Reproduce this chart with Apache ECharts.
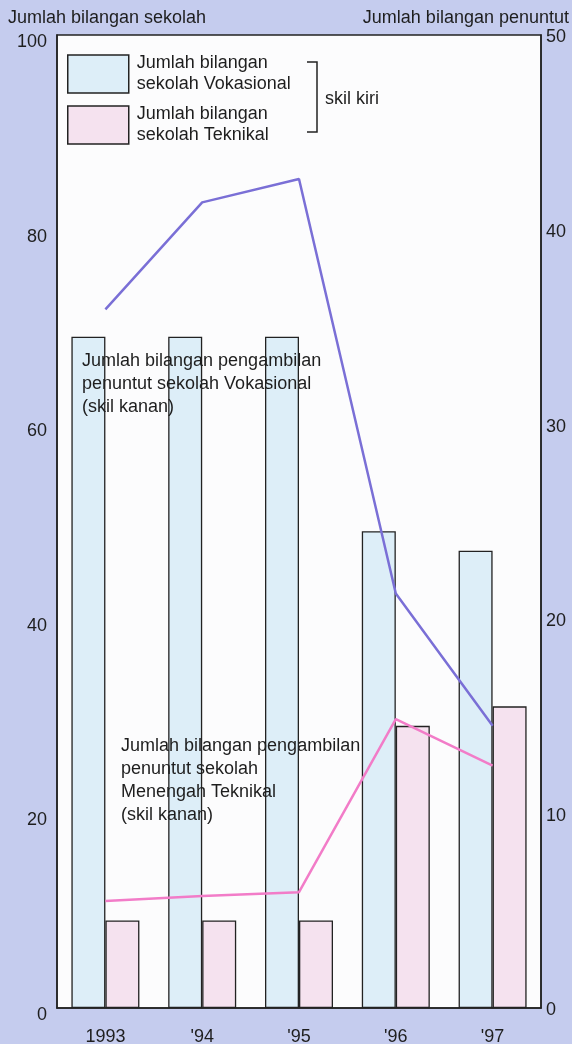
<!DOCTYPE html>
<html>
<head>
<meta charset="utf-8">
<script src="https://cdn.jsdelivr.net/npm/echarts@6/dist/echarts.min.js"></script>
<style>
html,body{margin:0;padding:0;background:#c5ccee;}
#chart{width:572px;height:1044px;}
</style>
</head>
<body>
<div id="chart"></div>
<script>
var years = ['1993', "'94", "'95", "'96", "'97"];
var sekolahVokasional = [69, 69, 69, 49, 47];
var sekolahTeknikal = [9, 9, 9, 29, 31];
var penuntutVokasional = [35.9, 41.4, 42.6, 21.3, 14.5];
var penuntutTeknikal = [5.5, 5.75, 5.95, 14.85, 12.45];
var leftTicks = [0, 20, 40, 60, 80, 100];
var rightTicks = [0, 10, 20, 30, 40, 50];

var FONT = '"Liberation Sans", Arial, sans-serif';
var TXT = '#1e1e1e';
var nameV = 'Jumlah bilangan sekolah Vokasional';
var nameT = 'Jumlah bilangan sekolah Teknikal';

var chart = echarts.init(document.getElementById('chart'), null, {renderer: 'canvas'});
chart.setOption({
  backgroundColor: '#c5ccee',
  animation: false,
  textStyle: {fontFamily: FONT},
  grid: {
    left: 57, right: 31, top: 35, bottom: 36,
    outerBoundsMode: 'none', containLabel: false,
    show: true, backgroundColor: '#fcfcfd', borderColor: '#222', borderWidth: 1.5
  },
  legend: {
    data: [nameV, nameT],
    orient: 'vertical',
    left: 67, top: 52, padding: 0,
    itemWidth: 61, itemHeight: 38, itemGap: 7,
    icon: 'rect',
    selectedMode: false,
    itemStyle: {borderColor: '#222', borderWidth: 1.5},
    formatter: function (n) {
      return n === nameV ? 'Jumlah bilangan\nsekolah Vokasional' : 'Jumlah bilangan\nsekolah Teknikal';
    },
    textStyle: {fontSize: 18, color: TXT, lineHeight: 21, fontFamily: FONT, padding: [2, 0, 0, 3]}
  },
  xAxis: {
    type: 'category',
    data: years,
    axisLine: {show: true, lineStyle: {color: '#222', width: 1.5}},
    axisTick: {show: false},
    axisLabel: {fontSize: 18, color: TXT, margin: 20, fontFamily: FONT}
  },
  yAxis: [
    {
      type: 'value', min: leftTicks[0], max: leftTicks[leftTicks.length - 1], interval: 20,
      axisLine: {show: true, lineStyle: {color: '#222', width: 1.5}},
      axisTick: {show: false},
      splitLine: {show: false},
      axisLabel: {fontSize: 18, color: TXT, margin: 10, fontFamily: FONT, verticalAlign: 'top', lineHeight: 14}
    },
    {
      type: 'value', min: rightTicks[0], max: rightTicks[rightTicks.length - 1], interval: 10,
      position: 'right',
      axisLine: {show: true, lineStyle: {color: '#222', width: 1.5}},
      axisTick: {show: false},
      splitLine: {show: false},
      axisLabel: {fontSize: 18, color: TXT, margin: 5, fontFamily: FONT, verticalAlign: 'top', lineHeight: 5}
    }
  ],
  series: [
    {
      name: nameV, type: 'bar', yAxisIndex: 0, data: sekolahVokasional,
      barWidth: 34, barGap: '0%',
      itemStyle: {color: '#ddeef8', borderColor: '#222', borderWidth: 1.3}
    },
    {
      name: nameT, type: 'bar', yAxisIndex: 0, data: sekolahTeknikal,
      barWidth: 34, barGap: '0%',
      itemStyle: {color: '#f5e2ef', borderColor: '#222', borderWidth: 1.3}
    },
    {
      name: 'Jumlah bilangan pengambilan penuntut sekolah Vokasional', type: 'line', yAxisIndex: 1,
      data: penuntutVokasional, symbol: 'none',
      lineStyle: {color: '#7a6fd6', width: 2.5}, z: 5
    },
    {
      name: 'Jumlah bilangan pengambilan penuntut sekolah Menengah Teknikal', type: 'line', yAxisIndex: 1,
      data: penuntutTeknikal, symbol: 'none',
      lineStyle: {color: '#f27cc8', width: 2.5}, z: 5
    }
  ],
  graphic: [
    {type: 'text', left: 8, top: 9, z: 10,
     style: {text: 'Jumlah bilangan sekolah', fontSize: 18, fill: TXT, fontFamily: FONT}},
    {type: 'text', right: 3, top: 9, z: 10,
     style: {text: 'Jumlah bilangan penuntut', fontSize: 18, fill: TXT, fontFamily: FONT}},
    {type: 'polyline', z: 10,
     shape: {points: [[307, 62], [317, 62], [317, 132], [307, 132]]},
     style: {stroke: '#222', lineWidth: 1.5, fill: null}},
    {type: 'text', left: 325, top: 90, z: 10,
     style: {text: 'skil kiri', fontSize: 18, fill: TXT, fontFamily: FONT}},
    {type: 'text', left: 82, top: 350, z: 10,
     style: {text: 'Jumlah bilangan pengambilan\npenuntut sekolah Vokasional\n(skil kanan)', fontSize: 18, lineHeight: 23, fill: TXT, fontFamily: FONT}},
    {type: 'text', left: 121, top: 735, z: 10,
     style: {text: 'Jumlah bilangan pengambilan\npenuntut sekolah\nMenengah Teknikal\n(skil kanan)', fontSize: 18, lineHeight: 23, fill: TXT, fontFamily: FONT}}
  ]
});
</script>
</body>
</html>
